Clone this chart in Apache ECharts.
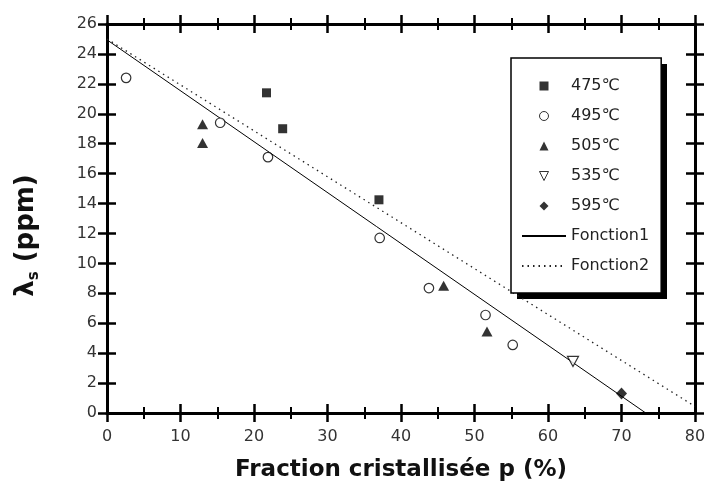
<!DOCTYPE html>
<html>
<head>
<meta charset="utf-8">
<script src="https://cdn.jsdelivr.net/npm/echarts@6/dist/echarts.min.js"></script>
<style>html,body{margin:0;padding:0;background:#fff;}#c{width:706px;height:489px;}</style>
</head>
<body>
<div id="c"></div>
<script>
// Data (x = Fraction cristallisée p %, y = λs ppm)
const p475 = [[21.7, 21.4], [23.9, 19.0], [37.0, 14.25]];
const p495 = [[2.6, 22.4], [15.4, 19.4], [21.9, 17.1], [37.1, 11.7], [43.8, 8.35], [51.5, 6.55], [55.2, 4.55]];
const p505 = [[13.0, 19.3], [13.0, 18.05], [45.8, 8.5], [51.7, 5.45]];
const p535 = [[63.4, 3.45]];
const p595 = [[70.0, 1.3]];
const fonction1 = [[0, 24.94], [73.3, 0]];
const fonction2 = [[0, 25.0], [80, 0.44]];
const seriesNames = ['475℃', '495℃', '505℃', '535℃', '595℃', 'Fonction1', 'Fonction2'];
const xRange = [0, 80], xStep = 10;
const yRange = [0, 26], yStep = 2;

const FONT = 'DejaVu Sans';
const SYM = {
  square: 'path://M0,0H10V10H0Z',
  circle: 'path://M10,5A5,5,0,1,1,0,5A5,5,0,1,1,10,5Z',
  up: 'path://M5,0L10,10H0Z',
  down: 'path://M0,0H10L5,10Z',
  diamond: 'path://M5,0L10,5L5,10L0,5Z'
};
const chart = echarts.init(document.getElementById('c'), null, {renderer: 'canvas'});

function xAx(pos, inside, labels) {
  const a = {
    type: 'value', position: pos, min: xRange[0], max: xRange[1], interval: xStep,
    axisLine: {show: true, onZero: false, lineStyle: {color: '#000', width: 3}},
    axisTick: {show: true, inside: inside, length: 9, lineStyle: {color: '#000', width: 2.5}},
    minorTick: {show: true, splitNumber: 2, length: 6, lineStyle: {color: '#000', width: 2}},
    axisLabel: {show: labels, margin: 16, fontSize: 16, color: '#333', fontFamily: FONT},
    splitLine: {show: false}, minorSplitLine: {show: false}
  };
  if (labels) {
    a.name = 'Fraction cristallisée p (%)';
    a.nameLocation = 'middle';
    a.nameGap = 46;
    a.nameTextStyle = {fontSize: 23, fontWeight: 'bold', color: '#111', fontFamily: FONT};
  }
  return a;
}
function yAx(pos, inside, labels) {
  const a = {
    type: 'value', position: pos, min: yRange[0], max: yRange[1], interval: yStep,
    axisLine: {show: true, onZero: false, lineStyle: {color: '#000', width: 3}},
    axisTick: {show: true, inside: inside, length: 9, lineStyle: {color: '#000', width: 2.5}},
    axisLabel: {show: labels, margin: 10, fontSize: 16, color: '#333', fontFamily: FONT},
    splitLine: {show: false}
  };
  if (labels) {
    a.name = '{a|λ}{b|s}{a| (ppm)}';
    a.nameLocation = 'middle';
    a.nameGap = 65;
    a.nameRotate = 90;
    a.nameTextStyle = {
      padding: [0, 34, 0, 0],
      rich: {
        a: {fontSize: 26, fontWeight: 'bold', color: '#111', fontFamily: FONT, lineHeight: 32},
        b: {fontSize: 15, fontWeight: 'bold', color: '#111', fontFamily: FONT, lineHeight: 32, verticalAlign: 'bottom'}
      }
    };
  }
  return a;
}

const option = {
  animation: false,
  backgroundColor: '#fff',
  grid: {left: 107, right: 11, top: 24, bottom: 76, containLabel: false, outerBoundsMode: 'none'},
  graphic: [{
    type: 'rect', z: 0, silent: true,
    shape: {x: 517, y: 64, width: 150, height: 235},
    style: {fill: '#000'}
  }],
  legend: {
    orient: 'vertical', left: 511, top: 58,
    data: seriesNames,
    itemWidth: 44, itemHeight: 9, itemGap: 10,
    padding: [18, 12, 17, 10],
    backgroundColor: '#fff', borderColor: '#000', borderWidth: 1.5, borderRadius: 0,
    itemStyle: {borderWidth: 1},
    textStyle: {fontSize: 16, color: '#222', fontFamily: FONT, lineHeight: 20},
    selectedMode: false
  },
  xAxis: [xAx('bottom', false, true), xAx('bottom', true, false), xAx('top', false, false), xAx('top', true, false)],
  yAxis: [yAx('left', false, true), yAx('left', true, false), yAx('right', false, false), yAx('right', true, false)],
  series: [
    {name: seriesNames[0], type: 'scatter', data: p475, symbol: SYM.square, symbolSize: 9, itemStyle: {color: '#000'}},
    {name: seriesNames[1], type: 'scatter', data: p495, symbol: SYM.circle, symbolSize: 9.5, itemStyle: {color: '#fff', borderColor: '#000', borderWidth: 1.2}},
    {name: seriesNames[2], type: 'scatter', data: p505, symbol: SYM.up, symbolSize: [11, 10], itemStyle: {color: '#000'}},
    {name: seriesNames[3], type: 'scatter', data: p535, symbol: SYM.down, symbolSize: [11, 10], itemStyle: {color: '#fff', borderColor: '#000', borderWidth: 1.2}},
    {name: seriesNames[4], type: 'scatter', data: p595, symbol: SYM.diamond, symbolSize: [11, 12], itemStyle: {color: '#000'}},
    {name: seriesNames[5], type: 'line', data: fonction1, symbol: 'circle', showSymbol: false, lineStyle: {color: '#000', width: 1}, itemStyle: {color: 'rgba(0,0,0,0)', borderWidth: 0}, z: 1},
    {name: seriesNames[6], type: 'line', data: fonction2, symbol: 'circle', showSymbol: false, lineStyle: {color: '#222', width: 1.3, type: [1.5, 4]}, itemStyle: {color: 'rgba(0,0,0,0)', borderWidth: 0}, z: 1}
  ]
};
chart.setOption(option);
</script>
</body>
</html>
